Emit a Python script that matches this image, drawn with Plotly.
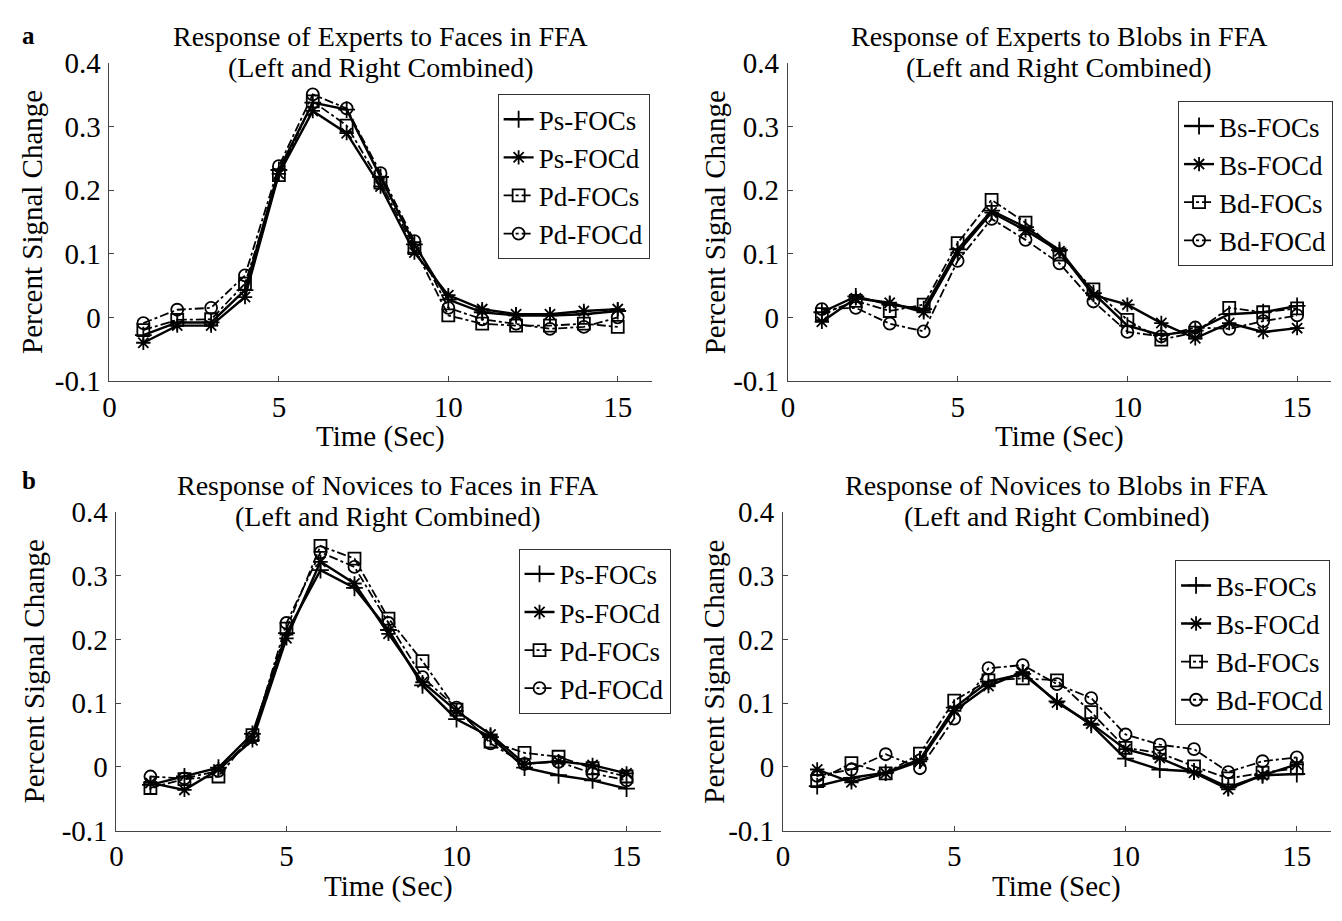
import plotly.graph_objects as go

W, H = 1342, 921
FONT = "Liberation Serif"

time_sec = list(range(1, 16))

# Experts, faces (panel a, left)
ps_focs_exp_faces = [-0.028, -0.008, -0.008, 0.043, 0.232, 0.338, 0.327, 0.221, 0.115, 0.028, 0.008, 0.003, 0.003, 0.005, 0.010]
ps_focd_exp_faces = [-0.040, -0.013, -0.013, 0.032, 0.226, 0.325, 0.290, 0.206, 0.102, 0.035, 0.013, 0.005, 0.005, 0.010, 0.013]
pd_focs_exp_faces = [-0.020, -0.004, -0.003, 0.053, 0.224, 0.340, 0.302, 0.212, 0.109, 0.003, -0.010, -0.013, -0.013, -0.010, -0.015]
pd_focd_exp_faces = [-0.009, 0.012, 0.015, 0.066, 0.238, 0.351, 0.329, 0.227, 0.120, 0.015, -0.003, -0.010, -0.018, -0.015, 0.000]

# Experts, blobs (panel a, right)
bs_focs_exp_blobs = [0.008, 0.033, 0.020, 0.013, 0.107, 0.168, 0.142, 0.106, 0.038, -0.013, -0.028, -0.021, 0.005, 0.008, 0.018]
bs_focd_exp_blobs = [-0.007, 0.030, 0.023, 0.008, 0.102, 0.165, 0.137, 0.104, 0.035, 0.020, -0.009, -0.033, -0.009, -0.023, -0.017]
bd_focs_exp_blobs = [0.005, 0.026, 0.010, 0.020, 0.117, 0.185, 0.149, 0.099, 0.044, -0.004, -0.035, -0.024, 0.015, 0.008, 0.014]
bd_focd_exp_blobs = [0.013, 0.015, -0.010, -0.022, 0.089, 0.155, 0.122, 0.085, 0.025, -0.023, -0.030, -0.016, -0.018, -0.006, 0.003]

# Novices, faces (panel b, left)
ps_focs_nov_faces = [-0.028, -0.015, -0.001, 0.052, 0.210, 0.309, 0.281, 0.215, 0.128, 0.075, 0.047, -0.001, -0.013, -0.021, -0.034]
ps_focd_nov_faces = [-0.025, -0.036, -0.004, 0.042, 0.202, 0.322, 0.288, 0.209, 0.133, 0.088, 0.051, 0.005, 0.009, 0.003, -0.010]
pd_focs_nov_faces = [-0.033, -0.019, -0.015, 0.050, 0.217, 0.347, 0.327, 0.233, 0.166, 0.090, 0.040, 0.022, 0.016, -0.002, -0.015]
pd_focd_nov_faces = [-0.015, -0.018, -0.006, 0.047, 0.226, 0.337, 0.314, 0.226, 0.141, 0.093, 0.037, 0.005, 0.008, -0.010, -0.021]

# Novices, blobs (panel b, right)
bs_focs_nov_blobs = [-0.030, -0.017, -0.009, 0.012, 0.093, 0.134, 0.146, 0.103, 0.066, 0.013, -0.004, -0.007, -0.032, -0.013, -0.011]
bs_focd_nov_blobs = [-0.004, -0.024, -0.010, 0.009, 0.088, 0.127, 0.149, 0.101, 0.068, 0.028, 0.014, -0.009, -0.035, -0.013, 0.004]
bd_focs_nov_blobs = [-0.022, 0.006, -0.010, 0.021, 0.104, 0.136, 0.139, 0.136, 0.086, 0.030, 0.022, 0.001, -0.018, -0.009, -0.002]
bd_focd_nov_blobs = [-0.014, -0.004, 0.020, -0.002, 0.076, 0.155, 0.160, 0.130, 0.108, 0.051, 0.035, 0.028, -0.008, 0.009, 0.015]

face_names = ["Ps-FOCs", "Ps-FOCd", "Pd-FOCs", "Pd-FOCd"]
blob_names = ["Bs-FOCs", "Bs-FOCd", "Bd-FOCs", "Bd-FOCd"]

panel_titles = [
    "Response of Experts to Faces in FFA",
    "Response of Experts to Blobs in FFA",
    "Response of Novices to Faces in FFA",
    "Response of Novices to Blobs in FFA",
]
subtitle = "(Left and Right Combined)"

x_ticks = [0, 5, 10, 15]
y_ticks = [-0.1, 0, 0.1, 0.2, 0.3, 0.4]
y_ticktext = ["-0.1", "0", "0.1", "0.2", "0.3", "0.4"]

# plot-area boxes in pixels: (left, right, top, bottom)
boxes = [
    (103, 648, 49, 378),
    (785, 1331, 49, 378),
    (110, 657, 514, 844),
    (780, 1331, 514, 844),
]
# horizontal centre of each rotated y-axis title, in pixels
ylabel_x = [25, 712, 28, 711]
# legend top-right corners in pixels
legend_corners = [(646, 81), (1333, 88), (667, 552), (1330, 564)]

series = [
    (face_names, [ps_focs_exp_faces, ps_focd_exp_faces, pd_focs_exp_faces, pd_focd_exp_faces]),
    (blob_names, [bs_focs_exp_blobs, bs_focd_exp_blobs, bd_focs_exp_blobs, bd_focd_exp_blobs]),
    (face_names, [ps_focs_nov_faces, ps_focd_nov_faces, pd_focs_nov_faces, pd_focd_nov_faces]),
    (blob_names, [bs_focs_nov_blobs, bs_focd_nov_blobs, bd_focs_nov_blobs, bd_focd_nov_blobs]),
]

styles = [
    dict(symbol="cross-thin-open", dash="solid", lw=2.4),
    dict(symbol="asterisk-open", dash="solid", lw=2.4),
    dict(symbol="square-open", dash="dashdot", lw=1.8),
    dict(symbol="circle-open", dash="dashdot", lw=1.8),
]


def px_x(v):
    return v / W


def px_y(v):
    return 1 - v / H


def label(text, x, y, size, angle=0):
    return dict(
        text=text, x=px_x(x), y=px_y(y), xref="paper", yref="paper",
        showarrow=False, xanchor="center", yanchor="middle", textangle=angle,
        font=dict(family=FONT, size=size, color="black"),
    )


fig = go.Figure()
layout = dict(
    width=W, height=H,
    margin=dict(l=0, r=0, t=0, b=0),
    paper_bgcolor="white", plot_bgcolor="white",
    font=dict(family=FONT, size=28, color="black"),
    showlegend=True,
)
annotations = []

for i, ((names, ys), box, corner) in enumerate(zip(series, boxes, legend_corners)):
    k = "" if i == 0 else str(i + 1)
    xa, ya = "x" + k, "y" + k
    leg = "legend" + k
    l, r, t, b = box
    for name, yv, st in zip(names, ys, styles):
        fig.add_trace(go.Scatter(
            x=time_sec, y=yv, name=name, mode="lines+markers",
            xaxis=xa, yaxis=ya, legend=leg,
            line=dict(color="black", width=st["lw"], dash=st["dash"]),
            marker=dict(symbol=st["symbol"], size=12, color="black",
                        line=dict(color="black", width=1.8)),
        ))
    layout["xaxis" + k] = dict(
        domain=[px_x(l), px_x(r)], anchor=ya, range=[0, 16],
        tickvals=x_ticks, ticks="inside", ticklen=5, tickwidth=1,
        tickcolor="#444", showline=True, linecolor="#444", linewidth=1,
        showgrid=False, zeroline=False, ticklabelstandoff=0,
        tickfont=dict(family=FONT, size=29, color="black"),
    )
    layout["yaxis" + k] = dict(
        domain=[px_y(b), px_y(t)], anchor=xa, range=[-0.1, 0.4],
        tickvals=y_ticks, ticktext=y_ticktext, ticks="inside", ticklen=5,
        tickwidth=1, tickcolor="#444", showline=True, linecolor="#444",
        linewidth=1, showgrid=False, zeroline=False, ticklabelstandoff=2,
        tickfont=dict(family=FONT, size=29, color="black"),
    )
    layout[leg] = dict(
        x=px_x(corner[0]), y=px_y(corner[1]), xanchor="right", yanchor="top",
        xref="paper", yref="paper",
        bgcolor="white", bordercolor="#333", borderwidth=1,
        font=dict(family=FONT, size=27, color="black"),
        tracegroupgap=0, itemwidth=30,
    )
    cx = (l + r) / 2
    annotations.append(label(panel_titles[i], cx, t - 28, 28))
    annotations.append(label(subtitle, cx, t + 4, 28))
    annotations.append(label("Time (Sec)", cx, b + 58, 29))
    annotations.append(label("Percent Signal Change", ylabel_x[i], (t + b) / 2, 29, -90))

annotations.append(label("<b>a</b>", 22, 20, 25))
annotations.append(label("<b>b</b>", 22, 481, 25))

layout["annotations"] = annotations
fig.update_layout(**layout)
fig.write_html("out.html")
